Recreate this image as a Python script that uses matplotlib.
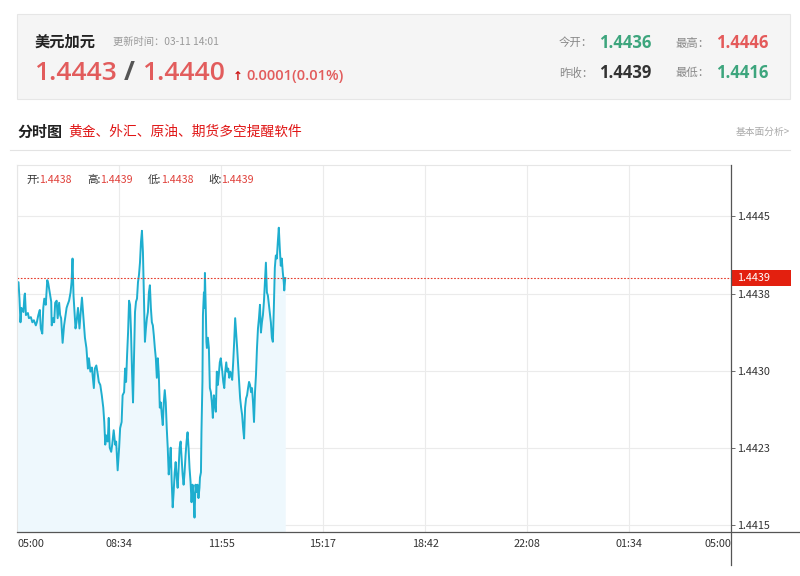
import numpy as np
import matplotlib
matplotlib.use("Agg")
import matplotlib.pyplot as plt
from matplotlib.lines import Line2D
from matplotlib.patches import Rectangle

plt.rcParams['font.family'] = ['Noto Sans CJK SC', 'DejaVu Sans']

# header info
symbol = "美元加元"
update_time = "更新时间：03-11 14:01"
price_bid = "1.4443"
price_ask = "1.4440"
change = "0.0001(0.01%)"
stats = [("今开：", "1.4436", "#3da57d"), ("最高：", "1.4446", "#e45a5a"),
         ("昨收：", "1.4439", "#333333"), ("最低：", "1.4416", "#3da57d")]
ohlc = [("开:", "1.4438"), ("高:", "1.4439"), ("低:", "1.4438"), ("收:", "1.4439")]
prev_close = 1.4439

# minutes after 05:00 and price
minutes = [1, 3, 5, 7, 9, 13, 15, 16, 18, 22, 24, 28, 31, 34, 38, 40, 43, 46, 48, 51,
           53, 55, 58, 61, 63, 66, 69, 70, 73, 75, 77, 80, 82, 85, 87, 89, 92, 95, 98, 100,
           102, 105, 108, 110, 112, 114, 116, 118, 120, 123, 126, 128, 131, 134, 137, 140, 143, 145, 148, 151,
           153, 155, 157, 160, 163, 165, 168, 171, 174, 176, 178, 180, 183, 185, 187,
           190, 192, 195, 198, 200, 203, 206, 208, 211, 213, 216, 218, 220, 222, 224, 226, 228, 230, 232, 234,
           236, 238, 240, 242, 244, 246, 248, 250, 252, 254, 256, 258, 260, 262, 264, 266, 268, 270, 272, 274,
           276, 278, 280, 282, 284, 286, 288, 290, 292, 294, 296, 298, 300, 302, 304, 306, 308, 310, 312, 314,
           316, 318, 320, 322, 324, 326, 328, 330, 332, 334, 336, 338, 340, 342, 344, 346, 348, 350, 352, 354,
           356, 358, 360, 362, 364, 366, 368,
           369, 371, 372, 374, 375, 377, 378, 379, 381, 382, 383, 385, 387, 389, 391, 393, 395, 397, 399, 401,
           403, 405, 407, 409, 411, 414, 416, 418, 420, 422, 424, 426, 428, 430, 432, 434, 436, 438, 440, 442,
           444, 446, 448, 450, 452, 454, 456, 458, 460, 462, 464, 466, 468, 470, 472, 474, 476, 478, 480, 482,
           484, 486, 488, 490, 492, 494, 496, 498, 500, 502, 504, 506, 508, 510, 512, 514, 516, 518, 520, 522,
           524, 526, 528, 530, 532, 534, 536, 538, 539, 541]
prices = [1.44386, 1.44386, 1.44370, 1.44347, 1.44361, 1.44357, 1.44373, 1.44375, 1.44354, 1.44356,
          1.44351, 1.44352, 1.44347, 1.44349, 1.44344, 1.44347, 1.44354, 1.44359, 1.44341, 1.44336,
          1.44361, 1.44370, 1.44364, 1.44388, 1.44385, 1.44376, 1.44367, 1.44344, 1.44351, 1.44347,
          1.44366, 1.44368, 1.44351, 1.44366, 1.44354, 1.44351, 1.44327, 1.44344, 1.44354, 1.44361,
          1.44364, 1.44368, 1.44376, 1.44386, 1.44409, 1.44373, 1.44357, 1.44341, 1.44347, 1.44361,
          1.44341, 1.44354, 1.44371, 1.44351, 1.44332, 1.44322, 1.44302, 1.44312, 1.44299, 1.44303,
          1.44293, 1.44283, 1.44302, 1.44305, 1.44296, 1.44289, 1.44286, 1.44276, 1.44264, 1.44250,
          1.44228, 1.44237, 1.44231, 1.44254, 1.44225,
          1.44221, 1.44228, 1.44242, 1.44228, 1.44231, 1.44203, 1.44225, 1.44244, 1.44250, 1.44276,
          1.44279, 1.44302, 1.44289, 1.44315, 1.44337, 1.44368, 1.44364, 1.44337, 1.44299, 1.44269,
          1.44315, 1.44357, 1.44367, 1.44370, 1.44386, 1.44393, 1.44405, 1.44425, 1.44436, 1.44415,
          1.44373, 1.44328, 1.44341, 1.44351, 1.44357, 1.44376, 1.44383, 1.44361, 1.44347, 1.44344,
          1.44334, 1.44322, 1.44312, 1.44293, 1.44312, 1.44296, 1.44264, 1.44269, 1.44257, 1.44247,
          1.44269, 1.44281, 1.44269, 1.44244, 1.44225, 1.44199, 1.44211, 1.44225, 1.44192, 1.44167,
          1.44182, 1.44201, 1.44211, 1.44196, 1.44186, 1.44205, 1.44225, 1.44231, 1.44215, 1.44199,
          1.44189, 1.44201, 1.44218, 1.44231, 1.44240, 1.44225, 1.44205, 1.44192, 1.44172, 1.44189,
          1.44179, 1.44157, 1.44189, 1.44182, 1.44189, 1.44176, 1.44186,
          1.44196, 1.44201, 1.44240, 1.44289, 1.44354, 1.44376, 1.44361, 1.44395, 1.44354, 1.44328,
          1.44322, 1.44332, 1.44322, 1.44283, 1.44279, 1.44269, 1.44254, 1.44276, 1.44267, 1.44260,
          1.44299, 1.44286, 1.44296, 1.44308, 1.44312, 1.44299, 1.44289, 1.44283, 1.44299, 1.44308,
          1.44299, 1.44302, 1.44293, 1.44299, 1.44296, 1.44291, 1.44308, 1.44328, 1.44351, 1.44337,
          1.44322, 1.44305, 1.44289, 1.44273, 1.44264, 1.44257, 1.44244, 1.44234, 1.44264, 1.44273,
          1.44276, 1.44283, 1.44289, 1.44286, 1.44279, 1.44283, 1.44269, 1.44250, 1.44279, 1.44296,
          1.44322, 1.44341, 1.44351, 1.44364, 1.44337, 1.44347, 1.44354, 1.44367, 1.44386, 1.44405,
          1.44376, 1.44373, 1.44364, 1.44354, 1.44347, 1.44332, 1.44328, 1.44361, 1.44400, 1.44412,
          1.44409, 1.44425, 1.44439, 1.44419, 1.44402, 1.44409, 1.44396, 1.44386, 1.44378, 1.44390]

x_labels = ["05:00", "08:34", "11:55", "15:17", "18:42", "22:08", "01:34", "05:00"]
y_ticks = [1.4415, 1.44225, 1.4430, 1.44375, 1.4445]
y_labels = ["1.4415", "1.4423", "1.4430", "1.4438", "1.4445"]

W, H = 800, 576
fig = plt.figure(figsize=(W / 100, H / 100), dpi=100)
fig.patch.set_facecolor("white")


def fx(x):
    return x / W


def fy(y):
    return 1 - y / H


# header panel
fig.patches.append(Rectangle((fx(17), fy(99)), fx(773), 85 / H, transform=fig.transFigure,
                             facecolor="#f5f5f5", edgecolor="#e6e6e6", lw=0.8))
fig.text(fx(35), fy(42), symbol, fontsize=11, fontweight="bold", color="#222222", va="center")
fig.text(fx(113), fy(42), update_time, fontsize=7.4, color="#999999", va="center")
fig.text(fx(34), fy(73), price_bid, fontsize=19, fontweight="semibold", color="#e25c5c", va="center",
         family=["Open Sans", "DejaVu Sans"])
fig.text(fx(124), fy(73), "/", fontsize=19, fontweight="bold", color="#555555", va="center",
         family=["Open Sans", "DejaVu Sans"])
fig.text(fx(142), fy(73), price_ask, fontsize=19, fontweight="semibold", color="#e25c5c", va="center",
         family=["Open Sans", "DejaVu Sans"])
fig.text(fx(233), fy(76), "↑", fontsize=8.5, fontweight="bold", color="#cc1111", va="center",
         family=["DejaVu Sans"])
fig.text(fx(246), fy(76), change, fontsize=10.5, fontweight="semibold", color="#e25c5c", va="center",
         family=["Open Sans", "DejaVu Sans"])

for i, (lab, val, col) in enumerate(stats):
    x0 = 559 if i % 2 == 0 else 676
    y0 = 43 if i < 2 else 73
    fig.text(fx(x0), fy(y0), lab, fontsize=8.2, color="#888888", va="center")
    fig.text(fx(x0 + 40), fy(y0), val, fontsize=12, fontweight="bold", color=col, va="center",
             family=["Open Sans", "DejaVu Sans"])

# section title
fig.text(fx(17), fy(132), "分时图", fontsize=10.8, fontweight="bold", color="#222222", va="center")
fig.text(fx(68), fy(132), "黄金、外汇、原油、期货多空提醒软件", fontsize=9.9, color="#e01515", va="center")
fig.text(fx(790), fy(132), "基本面分析>", fontsize=7, color="#aaaaaa", va="center", ha="right")
fig.add_artist(Line2D([fx(10), fx(790)], [fy(150), fy(150)], color="#e3e3e3", lw=0.8))

# chart
ax = fig.add_axes([fx(17), fy(532), fx(714), 367 / H])
ax.set_facecolor("white")
t = np.array(minutes)
p = np.array(prices)
ax.fill_between(t, p, 1.4410, color="#eef8fd", lw=0)
ax.plot(t, p, color="#1eaecf", lw=1.4)
ax.axhline(prev_close, color="#e53a2a", lw=0.8, ls=(0, (1.5, 1.5)))

ax.set_xlim(0, 1440)
ax.set_ylim(1.44143, 1.44500)
xt = np.linspace(0, 1440, len(x_labels))
ax.set_xticks(xt)
ax.set_xticklabels([])
ax.tick_params(axis="x", length=0)
ax.set_yticks(y_ticks)
ax.yaxis.tick_right()
ax.set_yticklabels(y_labels, fontsize=7.8, color="#333333")
ax.tick_params(axis="y", length=3, width=0.6, color="#555555", pad=1.5)
ax.grid(True, color="#ebebeb", lw=0.8)
ax.set_axisbelow(True)
for s in ["top", "left"]:
    ax.spines[s].set_color("#e6e6e6")
    ax.spines[s].set_linewidth(0.8)
ax.spines["bottom"].set_visible(False)
ax.spines["right"].set_visible(False)

for i, lab in enumerate(x_labels):
    ha = "left" if i == 0 else ("right" if i == len(x_labels) - 1 else "center")
    ax.text(xt[i], -0.02, lab, transform=ax.get_xaxis_transform(), ha=ha, va="top",
            fontsize=7.8, color="#333333")

# axis lines crossing at the corner
fig.add_artist(Line2D([fx(17), fx(800)], [fy(532), fy(532)], color="#555555", lw=0.9))
fig.add_artist(Line2D([fx(731), fx(731)], [fy(165), fy(565)], color="#555555", lw=0.9))

# last close marker
ax.add_patch(Rectangle((1.002, prev_close - 0.000078), 0.082, 0.000156,
                       transform=ax.get_yaxis_transform(), facecolor="#e3200f",
                       edgecolor="none", clip_on=False, zorder=5))
ax.text(1.008, prev_close, "1.4439", transform=ax.get_yaxis_transform(), color="white",
        fontsize=7.8, va="center", ha="left", zorder=6)

# ohlc strip
xpos = [26, 87, 148, 208]
for (lab, val), x0 in zip(ohlc, xpos):
    fig.text(fx(x0), fy(180), lab, fontsize=7.6, color="#333333", va="center")
    fig.text(fx(x0 + 13), fy(180), val, fontsize=7.6, color="#e0403a", va="center")

fig.savefig("out.png", dpi=100, facecolor="white")
